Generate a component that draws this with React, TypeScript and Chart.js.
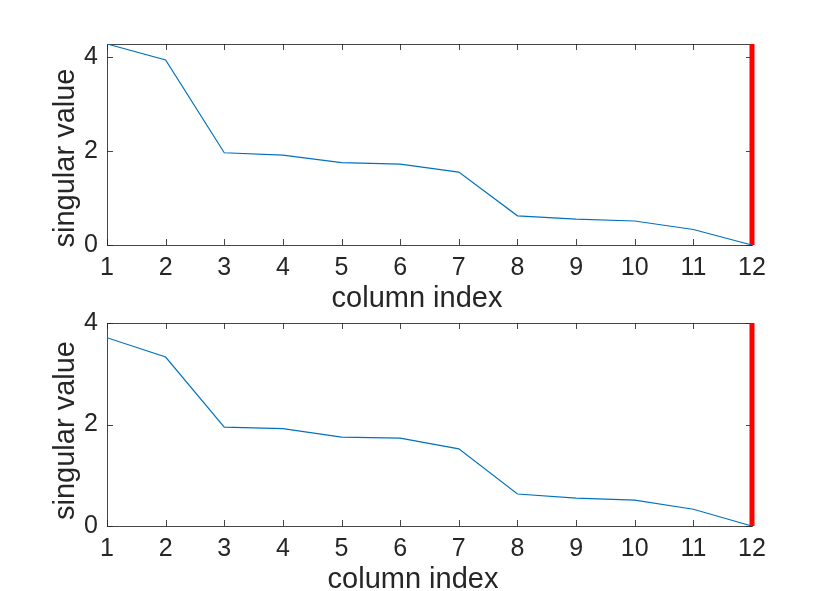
import React, { useEffect, useRef } from "react";
import { Chart, registerables } from "chart.js";

Chart.register(...registerables);

// ---- data ----
const columnIndex = [1, 2, 3, 4, 5, 6, 7, 8, 9, 10, 11, 12];
const singularTop = [4.27, 3.93, 1.96, 1.91, 1.75, 1.72, 1.55, 0.62, 0.55, 0.51, 0.33, 0.0];
const singularBottom = [3.71, 3.33, 1.95, 1.92, 1.75, 1.73, 1.52, 0.63, 0.55, 0.51, 0.33, 0.0];
const yMaxTop = 4.27;
const yMaxBottom = 4;
const markerIndex = 12;
const xTickValues = [1, 2, 3, 4, 5, 6, 7, 8, 9, 10, 11, 12];
const yTickValues = [0, 2, 4];
const xTitle = "column index";
const yTitle = "singular value";

const FONT = "'Liberation Sans', Arial, Helvetica, sans-serif";
const TEXT = "#262626";
const AXIS = "rgba(38,38,38,0.85)";
const BLUE = "#0072BD";
const RED = "#FF0000";

type PanelLayout = {
  top: number;
  height: number;
  padTop: number;
  xAxisHeight: number;
  xTickPad: number;
  xTitleX: number;
  xTitleBaseline: number;
  yTitleCenter: number;
  yTitleBaseline: number;
};

const boxPlugin = {
  id: "matlabBox",
  beforeDatasetsDraw(chart: any) {
    const { ctx, chartArea, scales } = chart;
    const { left, right, top, bottom } = chartArea;
    const xs = scales.x;
    const ys = scales.y;
    const tick = 6;
    ctx.save();
    ctx.strokeStyle = AXIS;
    ctx.lineWidth = 1;
    ctx.beginPath();
    ctx.rect(Math.round(left) + 0.5, Math.round(top) + 0.5, Math.round(right - left), Math.round(bottom - top));
    xs.ticks.forEach((t: any) => {
      const px = Math.round(xs.getPixelForValue(t.value)) + 0.5;
      ctx.moveTo(px, bottom);
      ctx.lineTo(px, bottom - tick);
      ctx.moveTo(px, top);
      ctx.lineTo(px, top + tick);
    });
    ys.ticks.forEach((t: any) => {
      const py = Math.round(ys.getPixelForValue(t.value)) + 0.5;
      ctx.moveTo(left, py);
      ctx.lineTo(left + tick, py);
      ctx.moveTo(right, py);
      ctx.lineTo(right - tick, py);
    });
    ctx.stroke();
    ctx.restore();
  },
};

const titlePlugin = {
  id: "matlabTitles",
  afterDraw(chart: any) {
    const cfg = chart.options.plugins.matlabTitles;
    if (!cfg) return;
    const { ctx } = chart;
    ctx.save();
    ctx.fillStyle = TEXT;
    ctx.font = `29px ${FONT}`;
    ctx.textAlign = "center";
    ctx.textBaseline = "alphabetic";
    ctx.fillText(cfg.xText, cfg.xTitleX, cfg.xTitleBaseline);
    ctx.translate(cfg.yTitleBaseline, cfg.yTitleCenter);
    ctx.rotate(-Math.PI / 2);
    ctx.fillText(cfg.yText, 0, 0);
    ctx.restore();
  },
};

function Panel({ values, yMax, layout }: { values: number[]; yMax: number; layout: PanelLayout }) {
  const ref = useRef<HTMLCanvasElement | null>(null);
  useEffect(() => {
    if (!ref.current) return;
    const chart = new Chart(ref.current, {
      type: "line",
      data: {
        datasets: [
          {
            data: columnIndex.map((c, i) => ({ x: c, y: values[i] })),
            borderColor: BLUE,
            borderWidth: 1.2,
            pointRadius: 0,
            tension: 0,
            fill: false,
          },
          {
            data: [
              { x: markerIndex, y: 0 },
              { x: markerIndex, y: yMax },
            ],
            borderColor: RED,
            borderWidth: 5,
            pointRadius: 0,
            fill: false,
            clip: false as any,
          },
        ],
      },
      options: {
        animation: false,
        responsive: false,
        devicePixelRatio: 1,
        layout: { padding: { top: layout.padTop, right: 78, left: 0, bottom: 0 } },
        plugins: {
          legend: { display: false },
          tooltip: { enabled: false },
          matlabTitles: {
            xText: xTitle,
            yText: yTitle,
            xTitleX: layout.xTitleX,
            xTitleBaseline: layout.xTitleBaseline,
            yTitleCenter: layout.yTitleCenter,
            yTitleBaseline: layout.yTitleBaseline,
          },
        } as any,
        scales: {
          x: {
            type: "linear",
            min: 1,
            max: 12,
            grid: { display: false, drawTicks: false, tickLength: 0 },
            border: { display: false },
            ticks: {
              padding: layout.xTickPad,
              color: TEXT,
              font: { family: FONT, size: 25, lineHeight: 1 },
              maxRotation: 0,
              autoSkip: false,
              callback: (v: any) => String(v),
            },
            afterBuildTicks: (s: any) => {
              s.ticks = xTickValues.map((v) => ({ value: v }));
            },
            afterFit: (s: any) => {
              s.height = layout.xAxisHeight;
            },
          },
          y: {
            type: "linear",
            min: 0,
            max: yMax,
            grid: { display: false, drawTicks: false, tickLength: 0 },
            border: { display: false },
            ticks: {
              padding: 9,
              color: TEXT,
              font: { family: FONT, size: 25, lineHeight: 1 },
              callback: (v: any) => String(v),
            },
            afterBuildTicks: (s: any) => {
              s.ticks = yTickValues.filter((v) => v <= yMax).map((v) => ({ value: v }));
            },
            afterFit: (s: any) => {
              s.width = 107;
            },
          },
        },
      },
      plugins: [boxPlugin, titlePlugin],
    });
    return () => chart.destroy();
  }, [values, yMax, layout]);

  return (
    <canvas
      ref={ref}
      width={830}
      height={layout.height}
      style={{ position: "absolute", left: 0, top: layout.top, width: 830, height: layout.height }}
    />
  );
}

const layoutTop: PanelLayout = {
  top: 0,
  height: 320,
  padTop: 44,
  xAxisHeight: 75,
  xTickPad: 10.5,
  xTitleX: 417,
  xTitleBaseline: 307,
  yTitleCenter: 158,
  yTitleBaseline: 74,
};

const layoutBottom: PanelLayout = {
  top: 300,
  height: 291,
  padTop: 23,
  xAxisHeight: 65,
  xTickPad: 11,
  xTitleX: 413,
  xTitleBaseline: 288,
  yTitleCenter: 130.5,
  yTitleBaseline: 74,
};

export default function App() {
  return (
    <div style={{ position: "absolute", left: 0, top: 0, width: 830, height: 591, background: "#fff" }}>
      <Panel values={singularTop} yMax={yMaxTop} layout={layoutTop} />
      <Panel values={singularBottom} yMax={yMaxBottom} layout={layoutBottom} />
    </div>
  );
}
